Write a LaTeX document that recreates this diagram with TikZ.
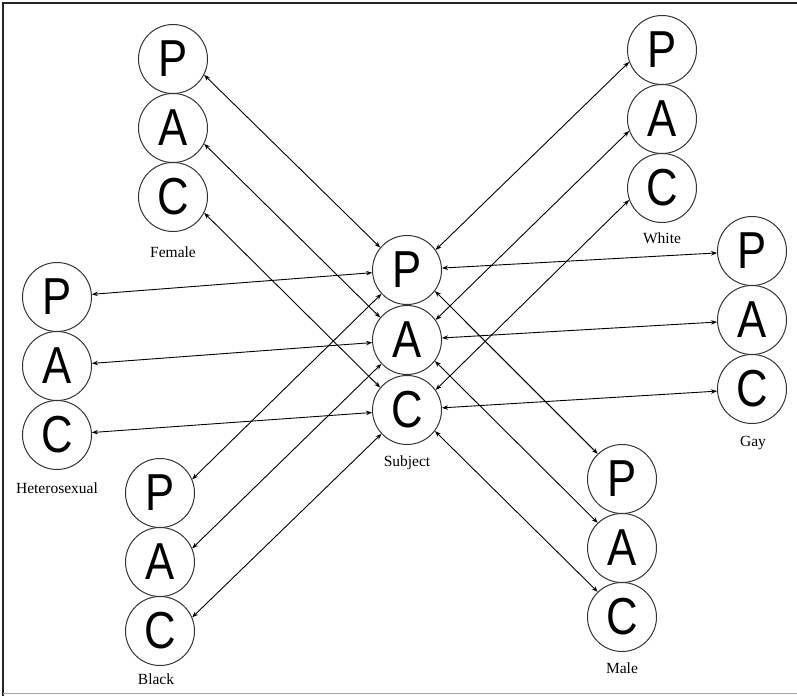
\documentclass[tikz,border=0pt]{standalone}
\usepackage{graphicx}
\usepackage{fontspec}
\setmainfont{Liberation Serif}
\newfontfamily\lettfont{Liberation Sans}
\usetikzlibrary{arrows.meta}
\begin{document}
\begin{tikzpicture}[x=1pt,y=-1pt,
  pac/.style={circle,draw=black!80,line width=1pt,minimum size=69pt,inner sep=0pt,
    font=\lettfont\fontsize{52}{52}\selectfont},
  lbl/.style={font=\fontsize{15.5}{15.5}\selectfont,inner sep=0pt},
  link/.style={{Stealth[length=6pt,width=4.5pt]}-{Stealth[length=6pt,width=4.5pt]},line width=0.9pt,black}]
\useasboundingbox (0,0) rectangle (797,696);
% frame
\draw[line width=1.5pt,black!85] (3,696) -- (3,3) -- (797,3);
\draw[line width=1pt,black!35] (3,693) -- (797,693);
% Female
\node[pac] (fP) at (173,59) {\scalebox{0.84}[1]{P}};
\node[pac] (fA) at (173,128) {\scalebox{0.84}[1]{A}};
\node[pac] (fC) at (173,197) {\scalebox{0.84}[1]{C}};
\node[lbl] (fL) at (173,252) {Female};
% Subject
\node[pac] (sP) at (407,270) {\scalebox{0.84}[1]{P}};
\node[pac] (sA) at (407,340) {\scalebox{0.84}[1]{A}};
\node[pac] (sC) at (407,410) {\scalebox{0.84}[1]{C}};
\node[lbl] (sL) at (407,463) {Subject};
% Heterosexual
\node[pac] (hP) at (57,297) {\scalebox{0.84}[1]{P}};
\node[pac] (hA) at (57,366) {\scalebox{0.84}[1]{A}};
\node[pac] (hC) at (57,435) {\scalebox{0.84}[1]{C}};
\node[lbl] (hL) at (57,488) {Heterosexual};
% White
\node[pac] (wP) at (662,50) {\scalebox{0.84}[1]{P}};
\node[pac] (wA) at (662,119) {\scalebox{0.84}[1]{A}};
\node[pac] (wC) at (662,188) {\scalebox{0.84}[1]{C}};
\node[lbl] (wL) at (662,238) {White};
% Gay
\node[pac] (gP) at (752,251) {\scalebox{0.84}[1]{P}};
\node[pac] (gA) at (752,320) {\scalebox{0.84}[1]{A}};
\node[pac] (gC) at (752,389) {\scalebox{0.84}[1]{C}};
\node[lbl] (gL) at (753,443) {Gay};
% Black
\node[pac] (bP) at (160,493) {\scalebox{0.84}[1]{P}};
\node[pac] (bA) at (160,562) {\scalebox{0.84}[1]{A}};
\node[pac] (bC) at (160,631) {\scalebox{0.84}[1]{C}};
\node[lbl] (bL) at (156,679) {Black};
% Male
\node[pac] (mP) at (622,479) {\scalebox{0.84}[1]{P}};
\node[pac] (mA) at (622,548) {\scalebox{0.84}[1]{A}};
\node[pac] (mC) at (622,617) {\scalebox{0.84}[1]{C}};
\node[lbl] (mL) at (622,668) {Male};
% connectors
\foreach \k in {P,A,C}{
  \draw[link] (f\k.-27) -- (s\k.140);
  \draw[link] (h\k) -- (s\k);
  \draw[link] (b\k.23) -- (s\k.223);
  \draw[link] (w\k.200) -- (s\k.35);
  \draw[link] (g\k) -- (s\k);
  \draw[link] (m\k.134) -- (s\k.-37);
}
\end{tikzpicture}
\end{document}
